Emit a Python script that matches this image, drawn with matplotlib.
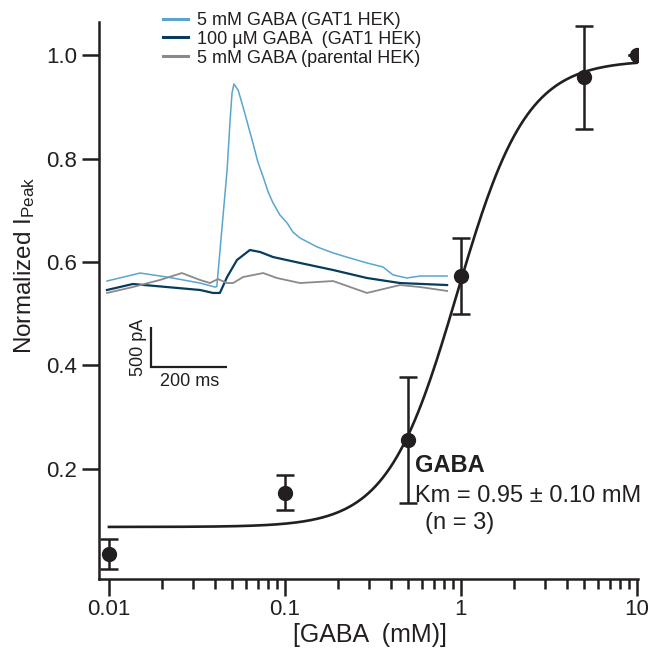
import numpy as np
import matplotlib
matplotlib.use('Agg')
import matplotlib.pyplot as plt
from matplotlib.ticker import FixedLocator, NullFormatter

plt.rcParams['font.family'] = ['Liberation Sans', 'DejaVu Sans']
plt.rcParams['mathtext.fontset'] = 'custom'
plt.rcParams['mathtext.rm'] = 'Liberation Sans'
plt.rcParams['mathtext.it'] = 'Liberation Sans:italic'

# dose response (mM, normalized peak current, sem)
conc = [0.01, 0.1, 0.5, 1.0, 5.0, 10.0]
norm_peak = [0.036, 0.154, 0.256, 0.573, 0.957, 1.0]
sem = [0.029, 0.034, 0.122, 0.073, 0.0995, 0.0]

# Hill fit parameters
fit_bottom = 0.088
fit_top = 0.99
fit_km = 0.95
fit_n = 2.2

# example traces (time in ms, current in pA)
t_gat1_5mm = [0, 87, 158, 245, 284, 289, 316, 324, 329, 334, 345, 358, 371, 384,
              397, 411, 424, 437, 455, 474, 489, 508, 553, 595, 639, 684, 726,
              753, 789, 824, 895]
i_gat1_5mm = [112, 212, 162, 87, 37, 42, 1500, 2125, 2463, 2575, 2500, 2288, 2063,
              1838, 1600, 1413, 1225, 1088, 938, 838, 725, 650, 538, 463, 400,
              338, 288, 188, 150, 175, 175]
t_gat1_100um = [0, 68, 158, 245, 279, 297, 316, 342, 376, 403, 437, 508, 595,
                684, 771, 895]
i_gat1_100um = [0, 75, 37, 0, -37, -37, 162, 375, 500, 475, 412, 338, 250,
                150, 87, 62]
t_parental = [0, 68, 139, 197, 245, 271, 292, 316, 332, 358, 411, 447, 508,
              595, 684, 771, 824, 895]
i_parental = [-37, 37, 125, 212, 125, 87, 137, 87, 87, 162, 212, 150, 87,
              112, -37, 62, 37, -12]

labels = ['5 mM GABA (GAT1 HEK)', '100 µM GABA  (GAT1 HEK)', '5 mM GABA (parental HEK)']
colors = ['#5aa5cf', '#063c5e', '#8a8a8a']
ink = '#231f20'

W, H = 652, 650
fig = plt.figure(figsize=(W / 100, H / 100), dpi=100)

def fx(px):
    return px / W

def fy(py):
    return 1 - py / H

ax = fig.add_axes([fx(99), fy(579), fx(638) - fx(99), fy(22) - fy(579)])
ax.set_xscale('log')
ax.set_xlim(0.00878, 10.13)
ax.set_ylim(-0.0126, 1.0638)

xs = np.logspace(np.log10(conc[0]), np.log10(conc[-1]), 300)
fit = fit_bottom + (fit_top - fit_bottom) * xs ** fit_n / (xs ** fit_n + fit_km ** fit_n)
ax.plot(xs, fit, color=ink, lw=1.9, zorder=2)
ax.errorbar(conc, norm_peak, yerr=sem, fmt='o', color=ink, ms=10,
            elinewidth=1.8, capsize=6.5, capthick=1.8, zorder=3)

for side in ['top', 'right']:
    ax.spines[side].set_visible(False)
for side in ['left', 'bottom']:
    ax.spines[side].set_linewidth(1.8)
    ax.spines[side].set_color(ink)

ax.set_yticks([0.2, 0.4, 0.6, 0.8, 1.0])
ax.set_yticklabels(['0.2', '0.4', '0.6', '0.8', '1.0'])
ax.set_xticks([0.01, 0.1, 1, 10])
ax.set_xticklabels(['0.01', '0.1', '1', '10'])
minor = [m * d for d in [0.01, 0.1, 1] for m in range(2, 10)]
ax.xaxis.set_minor_locator(FixedLocator(minor))
ax.xaxis.set_minor_formatter(NullFormatter())
ax.tick_params(axis='both', which='major', length=12.5, width=1.8, color=ink,
               labelsize=16, labelcolor=ink)
ax.tick_params(axis='y', pad=3.5)
ax.tick_params(axis='x', pad=2)
ax.tick_params(axis='x', which='minor', length=7, width=1.8, color=ink)
ax.patch.set_alpha(0)

fig.text(fx(370), fy(635), '[GABA  (mM)]', ha='center', va='center',
         fontsize=18, color=ink)
fig.text(fx(25), fy(265), r'Normalized I$_{\mathregular{Peak}}$', ha='center', va='center',
         rotation=90, fontsize=17.5, color=ink)

fig.text(fx(415), fy(465), 'GABA', ha='left', va='center', fontsize=17,
         fontweight='bold', color=ink)
fig.text(fx(415), fy(496), 'Km = 0.95 ± 0.10 mM', ha='left', va='center',
         fontsize=17, color=ink)
fig.text(fx(425), fy(523), '(n = 3)', ha='left', va='center', fontsize=17, color=ink)

# inset with current traces
axi = fig.add_axes([fx(100), fy(400), fx(460) - fx(100), fy(70) - fy(400)])
axi.set_xlim(-18.4, 928.9)
axi.set_ylim(-1375, 2750)
axi.axis('off')
axi.patch.set_alpha(0)
h1, = axi.plot(t_gat1_5mm, i_gat1_5mm, color=colors[0], lw=1.1)
h2, = axi.plot(t_gat1_100um, i_gat1_100um, color=colors[1], lw=1.6)
h3, = axi.plot(t_parental, i_parental, color=colors[2], lw=1.3)

# scale bar
axi.plot([116, 116, 316], [-462, -962, -962], color=ink, lw=1.6,
         solid_joinstyle='miter', solid_capstyle='butt')
axi.text(82, -712, '500 pA', rotation=90, ha='center', va='center',
         fontsize=13, color=ink)
axi.text(218, -1150, '200 ms', ha='center', va='center', fontsize=13, color=ink)

fig.legend([h1, h2, h3], labels, loc='upper left',
           bbox_to_anchor=(fx(163), fy(12)), frameon=False, fontsize=13,
           handlelength=1.4, handletextpad=0.5, labelspacing=0.1,
           borderpad=0, borderaxespad=0, labelcolor=ink)
for line in fig.legends[0].get_lines():
    line.set_linewidth(2.2)

fig.savefig('out.png', dpi=100)
